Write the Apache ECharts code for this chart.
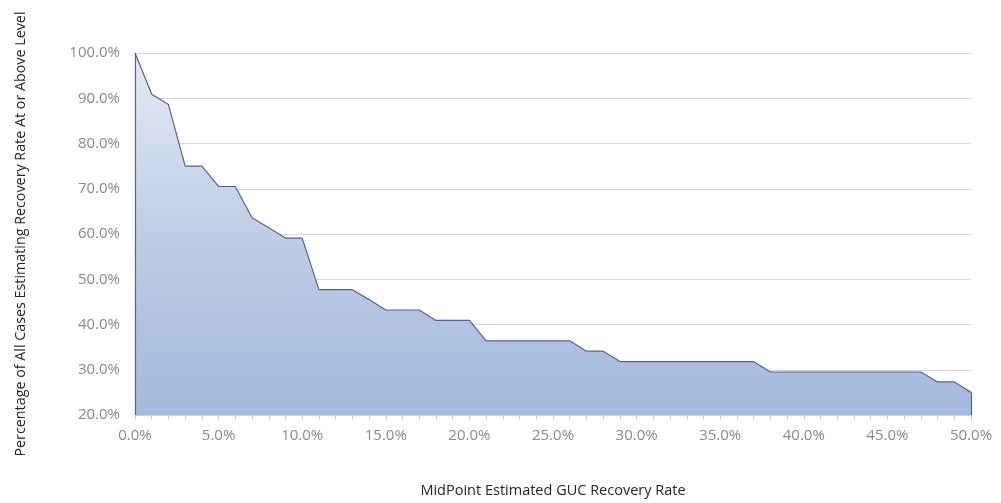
<!DOCTYPE html>
<html>
<head>
<meta charset="utf-8">
<script src="https://cdn.jsdelivr.net/npm/echarts@6/dist/echarts.min.js"></script>
<style>
  html, body { margin: 0; padding: 0; background: #ffffff; }
  #chart { width: 1001px; height: 503px; }
</style>
</head>
<body>
<div id="chart"></div>
<script>
// Midpoint recovery rate levels (percent), one per 1% step
const recoveryLevels = [
  0, 1, 2, 3, 4, 5, 6, 7, 8, 9,
  10, 11, 12, 13, 14, 15, 16, 17, 18, 19,
  20, 21, 22, 23, 24, 25, 26, 27, 28, 29,
  30, 31, 32, 33, 34, 35, 36, 37, 38, 39,
  40, 41, 42, 43, 44, 45, 46, 47, 48, 49, 50
];

// Share of all cases estimating a recovery rate at or above each level
const shareAtOrAbove = [
  1.000, 0.909, 0.886, 0.750, 0.750, 0.705, 0.705, 0.636, 0.614, 0.591,
  0.591, 0.477, 0.477, 0.477, 0.455, 0.432, 0.432, 0.432, 0.409, 0.409,
  0.409, 0.364, 0.364, 0.364, 0.364, 0.364, 0.364, 0.341, 0.341, 0.318,
  0.318, 0.318, 0.318, 0.318, 0.318, 0.318, 0.318, 0.318, 0.295, 0.295,
  0.295, 0.295, 0.295, 0.295, 0.295, 0.295, 0.295, 0.295, 0.273, 0.273, 0.250
];

// Y axis range and step (fractions)
const yMin = 0.2, yMax = 1.0, yStep = 0.1;

const xTitle = 'MidPoint Estimated GUC Recovery Rate';
const yTitle = 'Percentage of All Cases Estimating Recovery Rate At or Above Level';

const fmtPct = v => (v * 100).toFixed(1) + '%';

const chart = echarts.init(document.getElementById('chart'), null, { renderer: 'canvas' });

const lastIdx = recoveryLevels.length - 1;

chart.setOption({
  animation: false,
  backgroundColor: '#ffffff',
  textStyle: { fontFamily: 'Open Sans' },
  grid: { left: 135, right: 30, top: 53, bottom: 87, containLabel: false },
  xAxis: {
    type: 'category',
    data: recoveryLevels.map(v => (v / 100)),
    boundaryGap: false,
    name: xTitle,
    nameLocation: 'middle',
    nameGap: 68,
    nameTextStyle: { color: '#262626', fontSize: 14.5, fontFamily: 'Open Sans' },
    axisLine: { show: true, lineStyle: { color: '#d0d0d0', width: 1 } },
    axisTick: { show: true, interval: 0, length: 5, lineStyle: { color: '#d0d0d0' } },
    axisLabel: {
      interval: 4,
      color: '#8a8a8a',
      fontSize: 15,
      margin: 13,
      formatter: v => fmtPct(Number(v))
    },
    splitLine: { show: false }
  },
  yAxis: {
    type: 'value',
    min: yMin,
    max: yMax,
    interval: yStep,
    name: yTitle,
    nameLocation: 'middle',
    nameGap: 107,
    nameRotate: 90,
    nameTextStyle: { color: '#262626', fontSize: 14.3, fontFamily: 'Open Sans' },
    axisLine: { show: false },
    axisTick: { show: false },
    axisLabel: { color: '#8a8a8a', fontSize: 15, margin: 15, formatter: v => fmtPct(v) },
    splitLine: { show: true, lineStyle: { color: '#d9d9d9', width: 1 } }
  },
  series: [{
    type: 'line',
    data: shareAtOrAbove,
    symbol: 'none',
    smooth: false,
    lineStyle: { color: '#5b5f97', width: 1.2 },
    areaStyle: {
      origin: 'start',
      opacity: 1,
      color: new echarts.graphic.LinearGradient(0, 0, 0, 1, [
        { offset: 0, color: '#e4ebf5' },
        { offset: 0.5, color: '#bfcde6' },
        { offset: 1, color: '#a4b9de' }
      ])
    },
    // vertical borders closing the filled area at both ends
    markLine: {
      silent: true,
      symbol: 'none',
      label: { show: false },
      lineStyle: { color: '#5b5f97', width: 1.2, type: 'solid' },
      data: [
        [{ coord: [0, yMin] }, { coord: [0, shareAtOrAbove[0]] }],
        [{ coord: [lastIdx, yMin] }, { coord: [lastIdx, shareAtOrAbove[lastIdx]] }]
      ]
    }
  }]
});
</script>
</body>
</html>
